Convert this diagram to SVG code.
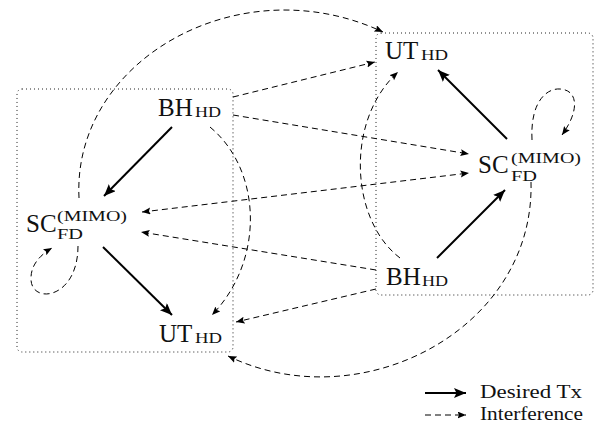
<svg xmlns="http://www.w3.org/2000/svg" width="600" height="429" viewBox="0 0 600 429">
  <style>
    .box { fill: none; stroke: #222; stroke-width: 1; stroke-dasharray: 1 3; }
    .tx { fill: none; stroke: #000; stroke-width: 2; marker-end: url(#headSolid); }
    .itf { fill: none; stroke: #000; stroke-width: 1; stroke-dasharray: 6 4; marker-end: url(#headDash); }
    .lbl { font-family: "Liberation Serif", "Times New Roman", serif; font-size: 25px; fill: #111; }
    .sub { font-family: "Liberation Serif", "Times New Roman", serif; font-size: 14.5px; fill: #111; }
    .leg { font-family: "Liberation Serif", "Times New Roman", serif; font-size: 18px; fill: #111; }
  </style>
  <defs>
    <marker id="headSolid" markerUnits="userSpaceOnUse" markerWidth="14" markerHeight="12" refX="12" refY="5" orient="auto">
      <path d="M0,0 L12,5 L0,10 L2.5,5 Z" fill="#000" stroke="none"/>
    </marker>
    <marker id="headDash" markerUnits="userSpaceOnUse" markerWidth="10" markerHeight="8" refX="8.5" refY="3.5" orient="auto-start-reverse">
      <path d="M0,0 L8.5,3.5 L0,7 L1.5,3.5 Z" fill="#000" stroke="none"/>
    </marker>
  </defs>

  <!-- cell boundaries -->
  <rect class="box" x="17" y="89" width="216" height="263" rx="5"/>
  <rect class="box" x="376" y="33" width="217" height="262" rx="5"/>

  <g id="connectors">
    <!-- desired transmissions -->
    <path class="tx" d="M172,127 L104,196"/>
    <path class="tx" d="M103,247 L172,315"/>
    <path class="tx" d="M437,258 L505,190"/>
    <path class="tx" d="M507,139 L438,70"/>

    <!-- interference links -->
    <path class="itf" d="M233,97 L375,62"/>
    <path class="itf" d="M233,115 L469,154"/>
    <path class="itf" d="M142,212 L469,173" marker-start="url(#headDash)"/>
    <path class="itf" d="M376,270 L141,232"/>
    <path class="itf" d="M376,289 L236,322"/>
    <path class="itf" d="M210,127 C262,170 265,260 212,315"/>
    <path class="itf" d="M400,258 C350,220 345,120 398,72"/>
    <path class="itf" d="M79,198 C72,60 240,-35 383,32"/>
    <path class="itf" d="M531,182 C535,330 360,420 228,356"/>
    <!-- self-interference loops -->
    <path class="itf" d="M78,246 C78,300 30,305 31,278 C31,265 40,255 52,248"/>
    <path class="itf" d="M532,140 C530,100 548,88 560,89 C578,90 580,110 562,135"/>
  </g>

  <g id="bh-left">
    <text class="lbl" x="158" y="116">BH</text>
    <text class="sub" x="195" y="117" textLength="26" lengthAdjust="spacingAndGlyphs">HD</text>
  </g>
  <g id="sc-left">
    <text class="lbl" x="26" y="232">SC</text>
    <text class="sub" x="57" y="221" textLength="70" lengthAdjust="spacingAndGlyphs">(MIMO)</text>
    <text class="sub" x="57" y="239" textLength="26" lengthAdjust="spacingAndGlyphs">FD</text>
  </g>
  <g id="ut-left">
    <text class="lbl" x="159" y="342">UT</text>
    <text class="sub" x="195" y="343" textLength="27" lengthAdjust="spacingAndGlyphs">HD</text>
  </g>
  <g id="ut-right">
    <text class="lbl" x="385" y="59">UT</text>
    <text class="sub" x="421" y="60" textLength="27" lengthAdjust="spacingAndGlyphs">HD</text>
  </g>
  <g id="sc-right">
    <text class="lbl" x="478" y="173">SC</text>
    <text class="sub" x="511" y="163" textLength="70" lengthAdjust="spacingAndGlyphs">(MIMO)</text>
    <text class="sub" x="511" y="181" textLength="26" lengthAdjust="spacingAndGlyphs">FD</text>
  </g>
  <g id="bh-right">
    <text class="lbl" x="386" y="285">BH</text>
    <text class="sub" x="422" y="286" textLength="26" lengthAdjust="spacingAndGlyphs">HD</text>
  </g>

  <g id="legend">
    <path class="tx" d="M425,393 L466,393"/>
    <path class="itf" d="M425,415 L466,415"/>
    <text class="leg" x="480" y="398" textLength="102" lengthAdjust="spacingAndGlyphs">Desired Tx</text>
    <text class="leg" x="480" y="420" textLength="103" lengthAdjust="spacingAndGlyphs">Interference</text>
  </g>
</svg>
